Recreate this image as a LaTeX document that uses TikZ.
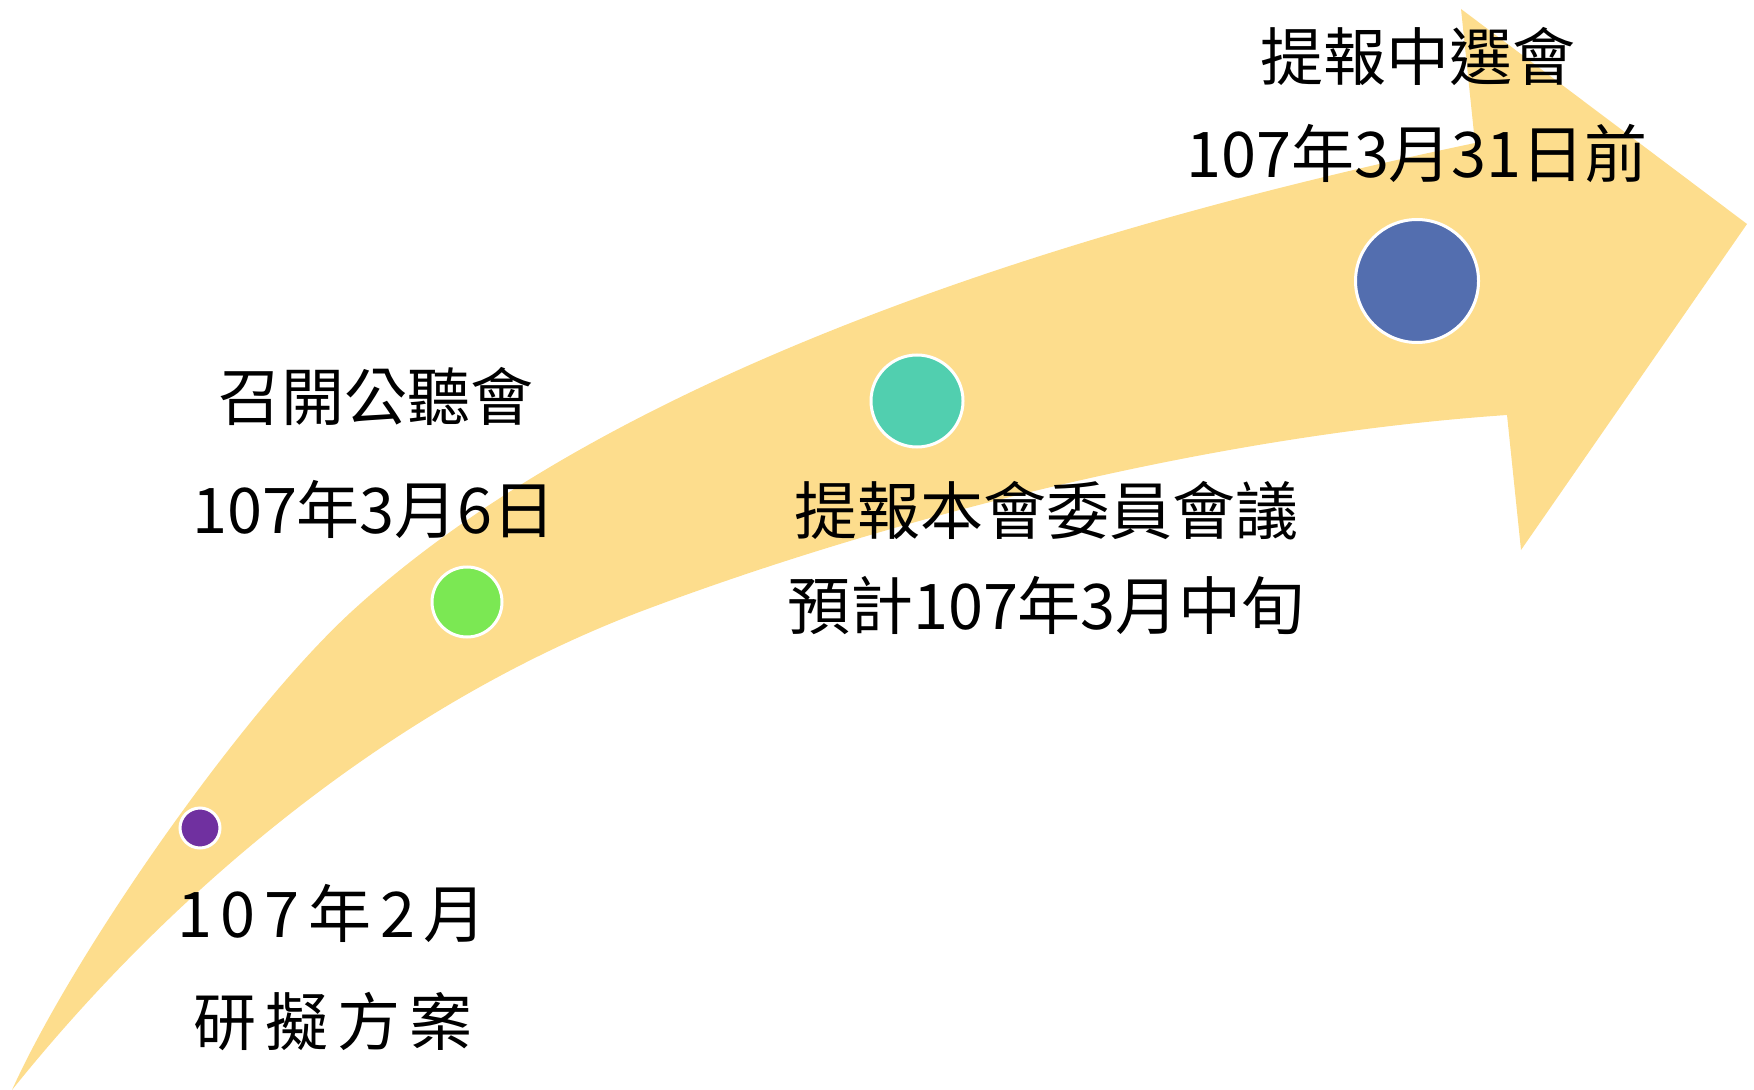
\documentclass[tikz,border=0pt]{standalone}
\usepackage{fontspec}
\setmainfont{Noto Sans CJK TC}
\definecolor{bandyellow}{HTML}{FDDD8D}
\definecolor{dotpurple}{HTML}{7030A0}
\definecolor{dotgreen}{HTML}{7BE853}
\definecolor{dotteal}{HTML}{51CFAF}
\definecolor{dotblue}{HTML}{536EAF}

\begin{document}
\begin{tikzpicture}[x=0.5pt,y=-0.5pt,
    txt/.style={font=\fontsize{31.5}{38}\selectfont, inner sep=0pt},
    spaced/.style={font=\fontsize{31.5}{38}\selectfont\addfontfeatures{LetterSpace=14}, inner sep=0pt},
    stage/.style={circle, draw=white, line width=1.5pt, inner sep=0pt}]
\useasboundingbox (0,0) rectangle (1754,1090);
% curved arrow
\fill[bandyellow] (12,1090) .. controls (74,953) and (240,715) .. (350,613)
    .. controls (615,369) and (1084,225) .. (1475,143)
    -- (1461,9) -- (1747,224) -- (1521,550) -- (1507,415)
    .. controls (1217,435) and (900,515) .. (650,608)
    .. controls (402,700) and (178,883) .. (12,1090) -- cycle;
% stages
\node[stage, fill=dotpurple, minimum size=20pt] (s1) at (200,828) {};
\node[stage, fill=dotgreen, minimum size=35pt] (s2) at (467,602) {};
\node[stage, fill=dotteal, minimum size=46pt] (s3) at (917,401) {};
\node[stage, fill=dotblue, minimum size=61.5pt] (s4) at (1417,281) {};
% texts
\node[spaced] (d1) at (332,913) {107年2月};
\node[spaced] (t1) at (333,1021) {研擬方案};
\node[txt] (t2) at (376,396) {召開公聽會};
\node[txt] (d2) at (374,509) {107年3月6日};
\node[txt] (t3) at (1046,511) {提報本會委員會議};
\node[txt] (d3) at (1046,606) {預計107年3月中旬};
\node[txt] (t4) at (1418,57) {提報中選會};
\node[txt] (d4) at (1417,153) {107年3月31日前};
\end{tikzpicture}
\end{document}
